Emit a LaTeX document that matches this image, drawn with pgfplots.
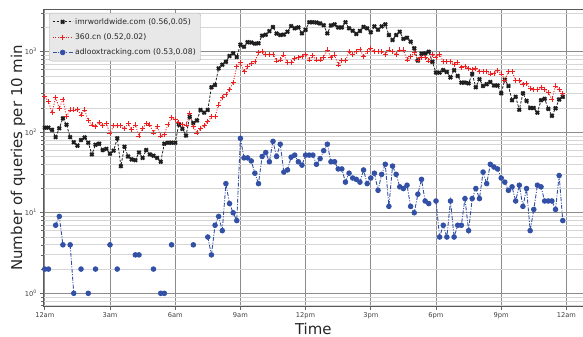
\documentclass[border=0pt]{standalone}
\usepackage{fontspec}
\setmainfont{DejaVu Sans}
\usepackage{pgfplots}
\usepackage{pgfplotstable}
\pgfplotsset{compat=1.18}
\definecolor{bk}{RGB}{30,30,30}
\definecolor{rd}{RGB}{240,30,30}
\definecolor{bl}{RGB}{50,80,165}

\pgfplotstableread{
b v
0 114
1 114
2 107
3 87
4 112
5 149
6 124
7 87
8 75
9 68
10 80
11 86
12 74
13 53
14 70
15 72
16 60
17 62
18 54
19 59
20 84
21 38
22 66
23 50
24 46
25 45
26 56
27 48
28 60
29 53
30 51
31 48
32 43
33 72
34 74
35 74
36 74
37 125
38 110
39 91
40 156
41 130
42 140
43 189
44 175
45 189
46 362
47 386
48 620
49 690
50 750
51 885
52 955
53 860
54 1220
55 1150
56 1310
57 1300
58 1260
59 1270
60 1580
61 1620
62 1800
63 2020
64 1680
65 1610
66 1630
67 1770
68 2080
69 1950
70 2000
71 1690
72 1870
73 2320
74 2320
75 2300
76 2240
77 2130
78 1690
79 2120
80 2180
81 2000
82 2000
83 2320
84 1950
85 1820
86 1660
87 1810
88 2030
89 1950
90 1740
91 2060
92 1870
93 2060
94 2180
95 1610
96 1400
97 1610
98 1770
99 1440
100 1490
101 1330
102 1100
103 773
104 945
105 950
106 1000
107 750
108 550
109 550
110 590
111 560
112 480
113 590
114 500
115 413
116 413
117 405
118 530
119 362
120 455
121 375
122 395
123 420
124 380
125 380
126 305
127 450
128 375
129 250
130 275
131 190
132 305
133 245
134 200
135 200
136 175
137 250
138 260
139 195
140 160
141 198
142 255
143 275
}\tblack

\pgfplotstableread{
b v
0 277
1 240
2 175
3 272
4 198
5 257
6 156
7 189
8 189
9 192
10 164
11 189
12 139
13 123
14 118
15 132
16 120
17 128
18 97
19 120
20 120
21 120
22 112
23 128
24 107
25 123
26 90
27 112
28 128
29 123
30 98
31 117
32 90
33 93
34 126
35 153
36 145
37 132
38 126
39 123
40 172
41 118
42 98
43 112
44 120
45 135
46 156
47 156
48 218
49 272
50 296
51 341
52 412
53 651
54 731
55 565
56 651
57 715
58 750
59 973
60 1000
61 930
62 930
63 930
64 767
65 790
66 910
67 731
68 731
69 828
70 850
71 870
72 935
73 790
74 890
75 790
76 790
77 857
78 1050
79 857
80 910
81 684
82 770
83 770
84 1000
85 930
86 1000
87 1070
88 870
89 1000
90 1100
91 1000
92 1000
93 1000
94 930
95 1050
96 1000
97 935
98 1050
99 1050
100 790
101 870
102 970
103 790
104 857
105 857
106 767
107 935
108 857
109 935
110 750
111 750
112 750
113 703
114 731
115 633
116 660
117 620
118 600
119 620
120 575
121 575
122 565
123 530
124 540
125 580
126 530
127 445
128 565
129 565
130 440
131 440
132 397
133 400
134 350
135 337
136 337
137 362
138 337
139 310
140 257
141 375
142 340
143 300
}\tred

\pgfplotstableread{
b v
0 2
1 2
2 nan
3 7
4 9
5 4
6 nan
7 4
8 1
9 nan
10 2
11 nan
12 1
13 nan
14 2
15 nan
18 4
19 nan
20 2
21 nan
25 3
26 3
27 nan
30 2
31 nan
32 1
33 1
34 nan
35 4
36 nan
41 4
42 nan
45 5
46 3
47 7
48 9
49 6
50 23
51 13
52 10
53 8
54 84
55 48
56 48
57 44
58 31
59 23
60 50
61 56
62 43
63 77
64 50
65 71
66 32
67 34
68 49
69 52
70 43
71 39
72 52
73 52
74 52
75 40
76 47
77 59
78 71
79 43
80 43
81 35
82 35
83 24
84 31
85 27
86 26
87 24
88 34
89 23
90 27
91 31
92 19
93 30
94 40
95 12
96 38
97 30
98 21
99 20
100 22
101 12
102 10
103 17
104 26
105 14
106 13
107 nan
108 14
109 5
110 7
111 5
112 14
113 5
114 7
115 7
116 15
117 6
118 15
119 20
120 15
121 32
122 23
123 40
124 37
125 35
126 27
127 24
128 19
129 21
130 14
131 22
132 12
133 20
134 6
135 11
136 22
137 21
138 14
139 14
140 14
141 11
142 29
143 8
}\tblue

\begin{document}
\begin{tikzpicture}
\useasboundingbox (-43.3bp,-30.3bp) rectangle (539.7bp,306.7bp);
\begin{axis}[
  at={(0,0)}, anchor=south west,
  scale only axis, width=540bp, height=297.7bp,
  ymode=log, ymin=0.682, ymax=3388,
  xmin=-0.414, xmax=148.67,
  xtick={0,18,36,54,72,90,108,126,144},
  xticklabels={12am,3am,6am,9am,12pm,3pm,6pm,9pm,12am},
  ytick={1,10,100,1000},
  yticklabels={10\textsuperscript{0},10\textsuperscript{1},10\textsuperscript{2},10\textsuperscript{3}},
  minor ytick={0.7,0.8,0.9,2,3,4,5,6,7,8,9,20,30,40,50,60,70,80,90,200,300,400,500,600,700,800,900,2000,3000},
  grid=both,
  major grid style={draw=black!45, line width=0.8bp},
  minor grid style={draw=black!16, line width=0.8bp},
  axis line style={draw=black!65, line width=1bp},
  xtick pos=bottom, ytick pos=left,
  tick align=outside,
  major tick length=3bp, minor tick length=2bp,
  every tick/.style={draw=black!60, line width=0.6bp},
  ticklabel style={font=\fontsize{6.7}{8}\selectfont, text=black!75},
  xticklabel style={yshift=1bp},
  unbounded coords=jump,
  xlabel={Time}, ylabel={Number of queries per 10 min},
  label style={font=\fontsize{15}{18}\selectfont, text=black!85},
  xlabel style={at={(axis description cs:0.5,-0.074)}, anchor=center},
  ylabel style={at={(axis description cs:-0.047,0.5)}, anchor=center},
  legend style={at={(axis description cs:0.0106,0.9866)}, anchor=north west,
    fill=black!9, draw=black!30, rounded corners=2.5bp,
    font=\fontsize{7.7}{9}\selectfont, text=black!85,
    row sep=4bp, inner xsep=3bp, inner ysep=3bp},
  legend image code/.code={
    \draw[mark repeat=2,mark phase=2,#1]
      plot coordinates {(0bp,0bp) (10bp,0bp) (20bp,0bp)};},
  legend cell align=left,
]
\addplot[bk, line width=0.8bp, dash pattern=on 2.5bp off 1.5bp, mark=x, mark size=2.4bp,
  mark options={solid, line width=2bp}] table[x=b, y=v] {\tblack};
\addlegendentry{imrworldwide.com (0.56,0.05)}
\addplot[rd, line width=0.9bp, dash pattern=on 1bp off 1.6bp, mark=+, mark size=2.5bp,
  mark options={solid, line width=0.75bp}] table[x=b, y=v] {\tred};
\addlegendentry{360.cn (0.52,0.02)}
\addplot[bl, line width=0.9bp, dash pattern=on 4bp off 1.5bp on 1bp off 1.5bp, mark=*, mark size=2.3bp,
  mark options={solid, draw=bl, fill=bl}] table[x=b, y=v] {\tblue};
\addlegendentry{adlooxtracking.com (0.53,0.08)}
\end{axis}
\end{tikzpicture}
\end{document}
